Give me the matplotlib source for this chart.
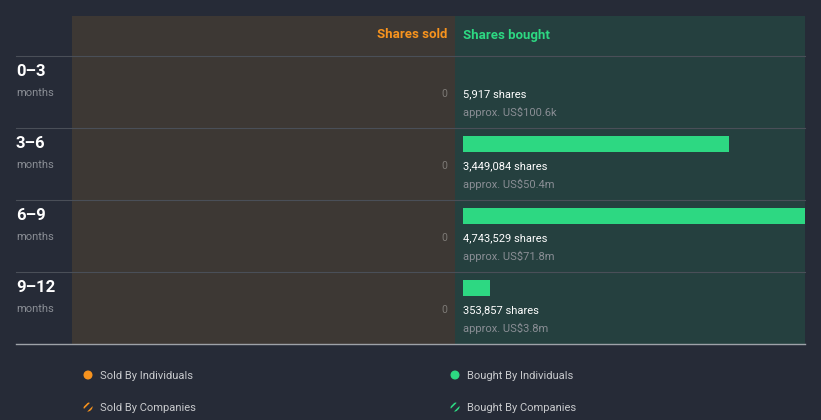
import matplotlib.pyplot as plt
from matplotlib.patches import Rectangle, Circle

# data
periods = ["0–3", "3–6", "6–9", "9–12"]
shares_sold = [0, 0, 0, 0]
shares_bought = [5917, 3449084, 4743529, 353857]
bought_value = ["US$100.6k", "US$50.4m", "US$71.8m", "US$3.8m"]

BG = "#262b37"
SOLD_BG = "#3d3834"
BOUGHT_BG = "#25403f"
ORANGE = "#f7931e"
GREEN = "#2dd882"
GREY = "#8a8e95"
FONT = "Roboto"

plt.rcParams["hatch.linewidth"] = 1.2

W, H = 821, 420
fig = plt.figure(figsize=(W / 100, H / 100), dpi=100, facecolor=BG)

# full-figure axes in pixel coordinates for the panel backgrounds and labels
base = fig.add_axes([0, 0, 1, 1])
base.set_xlim(0, W)
base.set_ylim(H, 0)
base.axis("off")

top, head, row_h = 16, 56, 72
bottom = head + row_h * len(periods)
base.add_patch(Rectangle((72, top), 455 - 72, bottom - top, color=SOLD_BG, lw=0))
base.add_patch(Rectangle((455, top), 805 - 455, bottom - top, color=BOUGHT_BG, lw=0))

base.text(447, 35, "Shares sold", color=ORANGE, fontsize=9.5, fontweight="bold",
          family=FONT, ha="right", va="center")
base.text(463, 35, "Shares bought", color=GREEN, fontsize=9.5, fontweight="bold",
          family=FONT, ha="left", va="center")

for i, p in enumerate(periods):
    y0 = head + i * row_h
    base.plot([16, 805], [y0, y0], color="#4a4f58", lw=0.8)
    base.text(16, y0 + 15, p, color="white", fontsize=12, fontweight="bold",
              family=FONT, ha="left", va="center")
    base.text(16, y0 + 37, "months", color=GREY, fontsize=8, family=FONT,
              ha="left", va="center")
    base.text(447, y0 + 38, f"{shares_sold[i]:,}", color="#7d7a76", fontsize=7.5,
              family=FONT, ha="right", va="center")
base.plot([16, 805], [bottom, bottom], color="#9ea2a8", lw=1)

# bars for shares bought
bx0, bx1 = 463, 805
ax = fig.add_axes([bx0 / W, 1 - bottom / H, (bx1 - bx0) / W, (bottom - head) / H])
ax.set_xlim(0, 4.44e6)
ax.set_ylim(len(periods) - 0.5, -0.5)
ax.axis("off")
ypos = [i - 20 / row_h for i in range(len(periods))]
ax.barh(ypos, shares_bought, height=16 / row_h, left=0, color=GREEN, clip_on=True)
for i, v in enumerate(shares_bought):
    ax.text(0, i + 2 / row_h, f"{v:,} shares", color="white", fontsize=8,
            family=FONT, ha="left", va="center")
    ax.text(0, i + 20 / row_h, f"approx. {bought_value[i]}", color=GREY, fontsize=8,
            family=FONT, ha="left", va="center")

# legend
base.scatter([88, 455], [375, 375], s=30, color=[ORANGE, GREEN], zorder=3)
for x, c in [(88, ORANGE), (455, GREEN)]:
    base.add_patch(Circle((x, 407), 4.5, facecolor="none", edgecolor=c,
                          hatch="////", lw=0))
lab = "#c8cacd"
base.text(100, 376, "Sold By Individuals", color=lab, fontsize=8, family=FONT, va="center")
base.text(467, 376, "Bought By Individuals", color=lab, fontsize=8, family=FONT, va="center")
base.text(100, 408, "Sold By Companies", color=lab, fontsize=8, family=FONT, va="center")
base.text(467, 408, "Bought By Companies", color=lab, fontsize=8, family=FONT, va="center")

fig.savefig("out.png", dpi=100, facecolor=BG)
